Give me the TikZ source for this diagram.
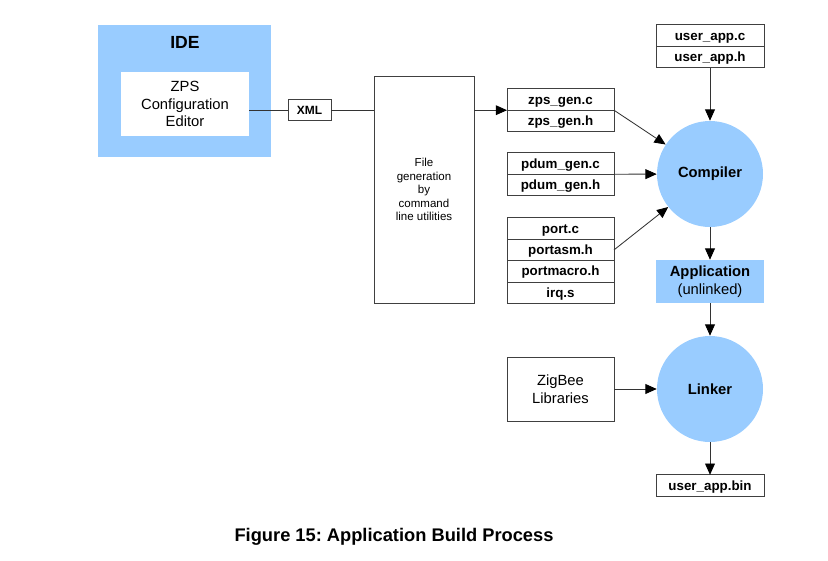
\documentclass[tikz,border=0pt]{standalone}
\usepackage{fontspec}
\setmainfont{Liberation Sans}
\usetikzlibrary{arrows.meta,positioning}
\definecolor{idefill}{RGB}{153,204,255}
\tikzset{
  conn/.style={draw=black!80, line width=0.6pt},
  arr/.style={conn, -{Triangle[length=8pt, width=7pt, color=black]}},
  filebox/.style={draw=black!75, line width=0.6pt, outer sep=0pt, inner sep=0pt, minimum width=2.675cm, minimum height=0.535cm, text height=6.9pt, text depth=0.4pt, font=\fontsize{9.5}{11}\selectfont\bfseries},
  plainbox/.style={draw=black!75, line width=0.6pt, outer sep=0pt, align=center, font=\fontsize{10.5}{12.6}\selectfont},
  tool/.style={circle, fill=idefill, minimum size=2.65cm, inner sep=0pt, font=\fontsize{10.5}{12.6}\selectfont\bfseries}
}

\begin{document}
\frenchspacing
\begin{tikzpicture}
  \useasboundingbox (0,0) rectangle (20.7,-14);

  % IDE side
  \node[fill=idefill, minimum width=4.325cm, minimum height=3.3cm, inner sep=0pt] (ide) at (4.6125,-2.275) {};
  \node[font=\fontsize{12.5}{15}\selectfont\bfseries] (idelabel) at (4.625,-1.05) {IDE};
  \node[fill=white, minimum width=3.2cm, minimum height=1.6cm, align=center, font=\fontsize{10.5}{12.6}\selectfont] (zps) at (4.625,-2.6) {ZPS\\Configuration\\Editor};
  \node[draw=black!75, line width=0.6pt, minimum width=1.075cm, minimum height=0.525cm, inner sep=0pt, text height=6.2pt, text depth=0pt, font=\fontsize{8.5}{10}\selectfont\bfseries] (xml) at (7.7375,-2.75) {XML};
  \node[plainbox, minimum width=2.5cm, minimum height=5.675cm, font=\fontsize{8.2}{9.6}\selectfont] (filegen) at (10.6,-4.7375) {File\\generation\\by\\command\\line utilities};

  \draw[conn] (xml.west -| zps.east) -- (xml.west);
  \draw[conn] (xml.east) -- (xml.east -| filegen.west);

  % generated and user files
  \node[filebox] (zpsc) at (14.0125,-2.4875) {zps\_gen.c};
  \node[filebox, below=0pt of zpsc] (zpsh) {zps\_gen.h};
  \node[filebox] (pdumc) at (14.0125,-4.0875) {pdum\_gen.c};
  \node[filebox, below=0pt of pdumc] (pdumh) {pdum\_gen.h};
  \node[filebox] (portc) at (14.0125,-5.7125) {port.c};
  \node[filebox, below=0pt of portc] (portasm) {portasm.h};
  \node[filebox, below=0pt of portasm] (portmacro) {portmacro.h};
  \node[filebox, below=0pt of portmacro] (irq) {irq.s};
  \node[filebox, minimum width=2.7cm] (userc) at (17.75,-0.8875) {user\_app.c};
  \node[filebox, minimum width=2.7cm, below=0pt of userc] (userh) {user\_app.h};

  \draw[arr] (zpsc.south west -| filegen.east) -- (zpsc.south west);

  % build chain
  \node[tool] (compiler) at (17.75,-4.35) {Compiler};
  \node[fill=idefill, minimum width=2.7cm, minimum height=1.075cm, align=center, inner sep=0pt, font=\fontsize{10.5}{12.6}\selectfont] (app) at (17.75,-7.0375) {\textbf{Application}\\(unlinked)};
  \node[tool] (linker) at (17.75,-9.725) {Linker};
  \node[plainbox, minimum width=2.675cm, minimum height=1.6cm] (zigbee) at (14.0125,-9.725) {ZigBee\\Libraries};
  \node[filebox, minimum width=2.7cm] (userbin) at (17.75,-12.1375) {user\_app.bin};

  \draw[arr] (zpsc.south east) -- (compiler);
  \draw[arr] (pdumc.south east) -- (compiler);
  \draw[arr] (portasm.east) -- (compiler);
  \draw[arr] (userh.south) -- (compiler);
  \draw[arr] (compiler) -- (app);
  \draw[arr] (app) -- (linker);
  \draw[arr] (zigbee) -- (linker);
  \draw[arr] (linker) -- (userbin);

  \node[font=\fontsize{13}{15.6}\selectfont\bfseries] (caption) at (9.85,-13.425) {Figure 15: Application Build Process};
\end{tikzpicture}
\end{document}
